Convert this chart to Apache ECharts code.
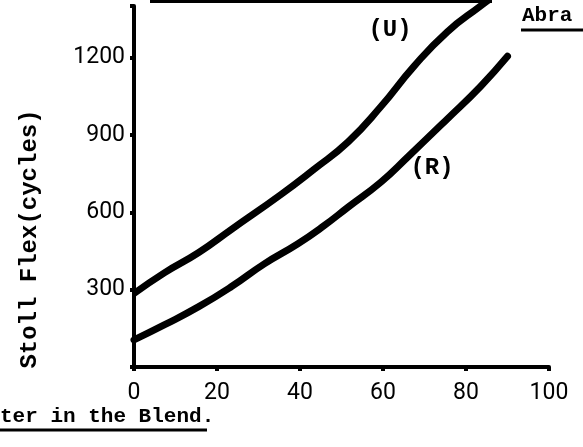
<!DOCTYPE html>
<html>
<head>
<meta charset="utf-8">
<script src="https://cdn.jsdelivr.net/npm/echarts@6/dist/echarts.min.js"></script>
<style>
  html, body { margin: 0; padding: 0; background: #ffffff; }
  #chart { width: 583px; height: 447px; }
</style>
</head>
<body>
<div id="chart"></div>
<script>
// percent of the component in the blend vs Stoll flex cycles
const xTicks = [0, 20, 40, 60, 80, 100]
const yTicks = [300, 600, 900, 1200]

const uPct = [0, 7.4, 15.6, 23.5, 35.5, 43.4, 51.6, 59.5, 67.4, 75.5, 83.5, 86]
const uCycles = [285, 366, 444, 534, 670, 767, 873, 1010, 1165, 1300, 1400, 1430]

const rPct = [0, 7.4, 15.6, 23.5, 31.4, 39.5, 45.8, 51.6, 59.5, 66, 75.5, 83.5, 90]
const rCycles = [105, 164, 234, 312, 400, 478, 548, 620, 717, 815, 962, 1088, 1205]

const pairs = (xs, ys) => xs.map((x, i) => [x, ys[i]])

const chart = echarts.init(document.getElementById('chart'))
const mono = '"Liberation Mono", "DejaVu Sans Mono", monospace'

chart.setOption({
  animation: false,
  backgroundColor: '#ffffff',
  grid: { left: 134, right: 34, top: 6, bottom: 80 },
  xAxis: {
    type: 'value',
    min: 0,
    max: 100,
    interval: 20,
    axisLine: { lineStyle: { color: '#000', width: 4 } },
    axisTick: { show: true, length: 4, lineStyle: { color: '#000', width: 4 } },
    splitLine: { show: false },
    axisLabel: {
      margin: 15,
      fontSize: 23,
      color: '#000',
      fontFamily: 'Roboto, sans-serif',
      formatter: v => (xTicks.includes(v) ? String(v) : '')
    }
  },
  yAxis: {
    type: 'value',
    min: 0,
    max: 1400,
    interval: 300,
    axisLine: { show: true, lineStyle: { color: '#000', width: 4 } },
    axisTick: { show: true, length: 4, lineStyle: { color: '#000', width: 4 } },
    splitLine: { show: false },
    axisLabel: {
      margin: 9,
      fontSize: 23,
      color: '#000',
      fontFamily: 'Roboto, sans-serif',
      formatter: v => (yTicks.includes(v) ? String(v) : '')
    }
  },
  series: [
    {
      name: 'U',
      type: 'line',
      smooth: true,
      symbol: 'none',
      clip: true,
      lineStyle: { color: '#000', width: 7 },
      data: pairs(uPct, uCycles)
    },
    {
      name: 'R',
      type: 'line',
      smooth: true,
      symbol: 'none',
      lineStyle: { color: '#000', width: 7, cap: 'round' },
      data: pairs(rPct, rCycles)
    }
  ],
  graphic: [
    {
      type: 'text',
      x: 30,
      y: 239,
      rotation: Math.PI / 2,
      style: {
        text: 'Stoll Flex(cycles)',
        font: 'bold 24px ' + mono,
        fill: '#000',
        textAlign: 'center',
        textVerticalAlign: 'middle'
      }
    },
    {
      type: 'text',
      x: 0,
      y: 417,
      style: {
        text: 'ter in the Blend.',
        font: 'bold 21px ' + mono,
        fill: '#000',
        textAlign: 'left',
        textVerticalAlign: 'middle'
      }
    },
    { type: 'line', shape: { x1: 0, y1: 430, x2: 207, y2: 430 }, style: { stroke: '#000', lineWidth: 3 } },
    {
      type: 'text',
      x: 522,
      y: 16,
      style: {
        text: 'Abra',
        font: 'bold 21px ' + mono,
        fill: '#000',
        textAlign: 'left',
        textVerticalAlign: 'middle'
      }
    },
    { type: 'line', shape: { x1: 521, y1: 30, x2: 583, y2: 30 }, style: { stroke: '#000', lineWidth: 3 } },
    { type: 'line', shape: { x1: 150, y1: 1, x2: 492, y2: 1 }, style: { stroke: '#000', lineWidth: 4 } },
    {
      type: 'text',
      x: 390,
      y: 30,
      style: {
        text: '(U)',
        font: 'bold 24px ' + mono,
        fill: '#000',
        textAlign: 'center',
        textVerticalAlign: 'middle'
      }
    },
    {
      type: 'text',
      x: 432,
      y: 168,
      style: {
        text: '(R)',
        font: 'bold 24px ' + mono,
        fill: '#000',
        textAlign: 'center',
        textVerticalAlign: 'middle'
      }
    }
  ]
})

window.addEventListener('resize', () => chart.resize())
</script>
</body>
</html>
